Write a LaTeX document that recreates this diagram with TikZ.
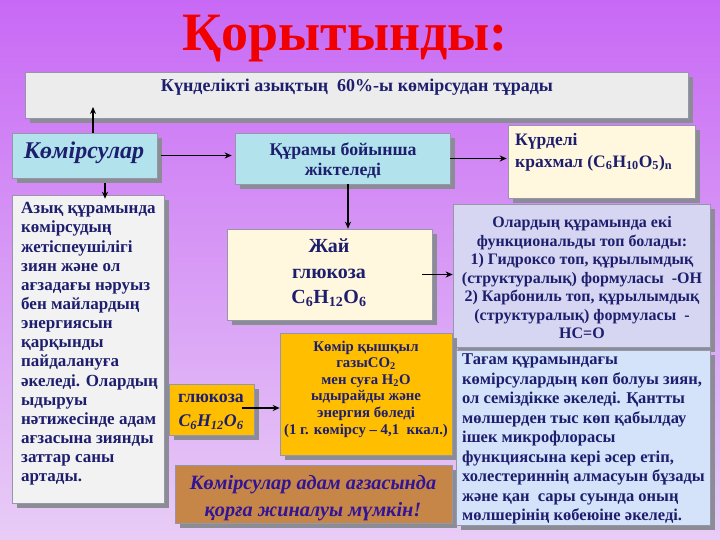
\documentclass[tikz,border=0pt]{standalone}
\usepackage{fontspec}
\setmainfont{Liberation Serif}
\usetikzlibrary{arrows.meta,shadows}
\definecolor{navy}{RGB}{30,30,110}
\definecolor{titlered}{RGB}{240,0,0}
\definecolor{bannerfill}{RGB}{236,236,236}
\definecolor{cyanfill}{RGB}{178,226,236}
\definecolor{creamfill}{RGB}{255,248,222}
\definecolor{lavfill}{RGB}{214,214,242}
\definecolor{leftfill}{RGB}{242,242,242}
\definecolor{orangefill}{RGB}{255,190,0}
\definecolor{brownfill}{RGB}{198,134,72}
\definecolor{bluefill}{RGB}{212,226,250}
\definecolor{browntext}{RGB}{50,20,150}
\definecolor{shadowgray}{RGB}{140,140,150}
\definecolor{bgtop}{RGB}{200,105,245}
\definecolor{bgbot}{RGB}{232,205,246}
\tikzset{
  box/.style={draw={rgb,255:red,150;green,150;blue,170}, line width=0.6pt, inner sep=0pt,
    drop shadow={shadow xshift=5pt, shadow yshift=-5pt, fill=shadowgray, opacity=1}},
  txt/.style={text=navy, inner sep=0pt, font=\bfseries},
  arr/.style={draw=black, line width=1.2pt, -{Stealth[length=7pt,width=6pt]}}
}
\begin{document}
\begin{tikzpicture}[x=1pt,y=-1pt]
\useasboundingbox (0,0) rectangle (720,540);
\shade[top color=bgtop, bottom color=bgbot] (0,0) rectangle (720,540);

% title
\node[inner sep=0pt, text=titlered, font=\fontsize{54}{60}\selectfont\bfseries] (title) at (345,39) {Қорытынды:};

% banner
\node[box, fill=bannerfill, minimum width=663pt, minimum height=46pt] (banner) at (356.5,95) {};
\node[txt, font=\fontsize{18}{20}\selectfont\bfseries] (bannertxt) at (357,87) {Күнделікті азықтың\ \ 60\%-ы көмірсудан тұрады};
\coordinate (bantip) at (93,107);

% Komirsular
\node[box, fill=cyanfill, minimum width=145pt, minimum height=45pt] (komir) at (84.5,155.5) {};
\node[txt, font=\fontsize{24}{26}\selectfont\bfseries\itshape] (komirtxt) at (84,153) {Көмірсулар};

% Quramy
\node[box, fill=cyanfill, minimum width=215pt, minimum height=51pt] (quram) at (342.5,158.5) {};
\node[txt, align=center, font=\fontsize{17.8}{20}\selectfont\bfseries] (quramtxt) at (343,161) {Құрамы бойынша\\жіктеледі};

% Kurdeli
\node[box, fill=creamfill, minimum width=187pt, minimum height=73pt] (kurdeli) at (601.5,161.5) {};
\node[txt, anchor=west, align=left, font=\fontsize{17.5}{22}\selectfont\bfseries] (kurdelitxt) at (515,152) {Күрделі\\крахмал (C\textsubscript{6}H\textsubscript{10}O\textsubscript{5})\textsubscript{n}};

% Jay glukoza
\node[box, fill=creamfill, minimum width=205pt, minimum height=91pt] (jay) at (329.5,274.5) {};
\node[txt, align=center, font=\fontsize{20}{25.5}\selectfont\bfseries] (jaytxt) at (329,273) {Жай\\глюкоза\\C\textsubscript{6}H\textsubscript{12}O\textsubscript{6}};

% functional groups
\node[box, fill=lavfill, minimum width=257pt, minimum height=143pt] (func) at (581.5,275.5) {};
\node[txt, align=center, font=\fontsize{16}{18.5}\selectfont\bfseries] (functxt) at (582,278) {Олардың құрамында екі\\функциональды топ болады:\\1) Гидроксо топ, құрылымдық\\(структуралық) формуласы\ \ -ОН\\2) Карбониль топ, құрылымдық\\(структуралық) формуласы\ \ -\\НС=О};

% left box
\node[box, fill=leftfill, minimum width=152pt, minimum height=308pt] (left) at (88,349) {};
\node[txt, anchor=west, align=left, font=\fontsize{17}{19.15}\selectfont\bfseries] (lefttxt) at (21,344) {Азық құрамында\\көмірсудың\\жетіспеушілігі\\зиян және ол\\ағзадағы нәруыз\\бен майлардың\\энергиясын\\қарқынды\\пайдалануға\\әкеледі. Олардың\\ыдыруы\\нәтижесінде адам\\ағзасына зиянды\\заттар саны\\артады.};

% glucose small
\node[box, fill=orangefill, minimum width=85pt, minimum height=51pt] (gluc) at (211.5,409.5) {};
\node[txt, align=center, font=\fontsize{17.8}{24}\selectfont\bfseries] (gluctxt) at (211,412) {глюкоза\\{\itshape C\textsubscript{6}H\textsubscript{12}O\textsubscript{6}}};

% CO2 box
\node[box, fill=orangefill, minimum width=172pt, minimum height=122pt] (co2) at (366,394) {};
\node[txt, align=center, font=\fontsize{14.8}{16.6}\selectfont\bfseries] (co2txt) at (366,389) {Көмір қышқыл\\газыCO\textsubscript{2}\\мен суға H\textsubscript{2}O\\ыдырайды және\\энергия бөледі\\(1 г. көмірсу -- 4,1\ \ ккал.)};

% brown box
\node[box, fill=brownfill, minimum width=277pt, minimum height=58pt] (brown) at (313.5,494) {};
\node[inner sep=0pt, text=browntext, align=center, font=\fontsize{20.3}{27}\selectfont\bfseries\itshape] (browntxt) at (313,498) {Көмірсулар адам ағзасында\\қорға жиналуы мүмкін!};

% bottom right box
\node[box, fill=bluefill, minimum width=254pt, minimum height=175pt] (br) at (583,437.5) {};
\node[txt, anchor=west, align=left, font=\fontsize{16.5}{19.5}\selectfont\bfseries] (brtxt) at (462,439) {Тағам құрамындағы\\көмірсулардың көп болуы зиян,\\ол семіздікке әкеледі. Қантты\\мөлшерден тыс көп қабылдау\\ішек микрофлорасы\\функциясына кері әсер етіп,\\холестериннің алмасуын бұзады\\және қан\ \ сары суында оның\\мөлшерінің көбеюіне әкеледі.};

% connectors
\coordinate (kd) at (105,0);
\coordinate (jx) at (348,0);
\draw[arr] (komir.north -| bantip) -- (bantip);
\draw[arr] ([xshift=4pt]komir.east) -- ([xshift=-3pt]komir.east -| quram.west);
\draw[arr] ([yshift=-5pt]komir.south -| kd) -- ([yshift=-4pt]left.north -| kd);
\draw[arr] (quram.east) -- ([xshift=-1pt]quram.east -| kurdeli.west);
\draw[arr] (quram.south -| jx) -- (jay.north -| jx);
\draw[arr] ([xshift=-10pt]jay.east) -- (jay.east -| func.west);
\draw[arr] ([xshift=-12pt,yshift=1.5pt]gluc.east) -- ([yshift=1.5pt]gluc.east -| co2.west);
\end{tikzpicture}
\end{document}
